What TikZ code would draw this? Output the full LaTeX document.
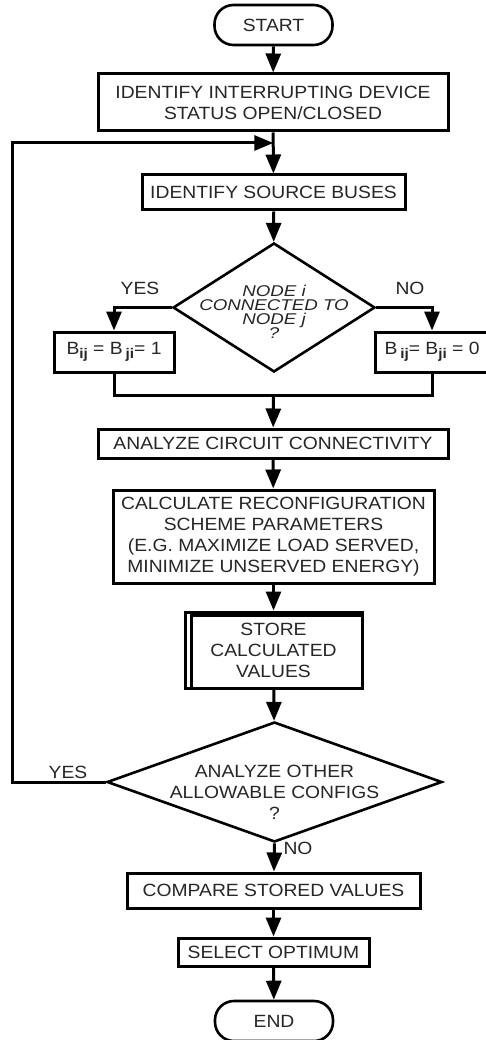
\documentclass[tikz,border=0pt]{standalone}
\usepackage{fontspec}
\setmainfont{Liberation Sans}[FakeStretch=1.09]
\newfontfamily\dianodefont{Liberation Sans}[FakeStretch=1.2]
\usetikzlibrary{arrows.meta,shapes.geometric}
\newcommand\bsub[1]{\raisebox{-0.45ex}{\fontsize{14}{14}\selectfont\bfseries #1}}
\tikzset{
  every node/.style={font=\fontsize{17.7}{21}\selectfont, text=black!85},
  proc/.style={draw=black, line width=3pt, rectangle, inner sep=0pt, align=center},
  term/.style={draw=black, line width=2.6pt, rectangle, rounded corners=19pt, inner sep=0pt,
               minimum width=118pt, minimum height=40pt},
  decide/.style={draw=black, line width=2.6pt, diamond, inner sep=0pt},
  arr/.style={line width=3pt, -{Triangle[length=19pt,width=15pt]}},
  link/.style={line width=3pt},
  lbl/.style={inner sep=0pt}
}
\begin{document}
\begin{tikzpicture}[x=1pt,y=-1pt]
  \useasboundingbox (0,0) rectangle (486,1040);
  \fill[white] (0,0) rectangle (486,1040);

  % terminals and process boxes, top to bottom
  \node[term] (start) at (273.5,25) {START};
  \node[proc, minimum width=350pt, minimum height=57pt] (status) at (273,102.5)
    {IDENTIFY INTERRUPTING DEVICE\\STATUS OPEN/CLOSED};
  \coordinate (join) at (273.3,143);
  \node[proc, minimum width=263pt, minimum height=35pt] (source) at (273.5,192.5)
    {IDENTIFY SOURCE BUSES};

  % connectivity test
  \node[decide, minimum width=202pt, minimum height=129pt] (conn) at (274,307.5) {};
  \node[lbl, align=center, font=\dianodefont\itshape\fontsize{15.6}{14.2}\selectfont]
    (conntext) at ([yshift=-4.5pt]conn.center) {NODE \textit{i}\\CONNECTED TO\\NODE \textit{j}\\?};
  \node[proc, minimum width=120pt, minimum height=40pt] (bone) at (114,352)
    {B\bsub{ij} = B\,\bsub{ji}= 1};
  \node[proc, minimum width=114pt, minimum height=40pt] (bzero) at (432,352)
    {B\,\bsub{ij}= B\bsub{ji} = 0};
  \coordinate (merge) at (273.5,395);

  \node[proc, minimum width=350pt, minimum height=29pt] (circuit) at (273,443.5)
    {ANALYZE CIRCUIT CONNECTIVITY};
  \node[proc, minimum width=321pt, minimum height=93pt] (calc) at (273.5,536.5)
    {CALCULATE RECONFIGURATION\\SCHEME PARAMETERS\\(E.G. MAXIMIZE LOAD SERVED,\\MINIMIZE UNSERVED ENERGY)};
  \node[proc, minimum width=177pt, minimum height=76pt] (store) at (273.5,650)
    {STORE\\CALCULATED\\VALUES};
  % inner edge of the stored-data box
  \draw[line width=2.4pt] ([xshift=8pt]store.south west) -- ([xshift=8pt,yshift=-5pt]store.north west)
    -- ([yshift=-5pt]store.north east);

  % loop test
  \node[decide, minimum width=335pt, minimum height=120pt] (other) at (274.5,782) {};
  \node[lbl, align=center] (othertext) at ([yshift=-10pt]other.center)
    {ANALYZE OTHER\\ALLOWABLE CONFIGS\\?};
  \coordinate (loopx) at (12,782);

  \node[proc, minimum width=293pt, minimum height=35pt] (compare) at (273.5,890.5)
    {COMPARE STORED VALUES};
  \node[proc, minimum width=191pt, minimum height=28pt] (select) at (273.5,952)
    {SELECT OPTIMUM};
  \node[term] (finish) at (274,1021) {END};

  % connectors
  \draw[arr] (start) -- (status);
  \draw[arr] (status) -- (source);
  \draw[arr] (source) -- (conn);
  \draw[arr] (conn.west) -| (bone.north);
  \draw[arr] (conn.east) -| (bzero.north);
  \draw[link] (bone.south) |- (merge) -| (bzero.south);
  \draw[arr] (merge) -- (circuit);
  \draw[arr] (circuit) -- (calc);
  \draw[arr] (calc) -- (store);
  \draw[arr] (store) -- (other);
  \draw[arr] (other.west) -- (loopx) |- (join);
  \draw[arr] (other.south) -- (compare);
  \draw[arr] (compare) -- (select);
  \draw[arr] (select) -- (finish);

  % branch labels
  \node[lbl] (yesone) at (140,288) {YES};
  \node[lbl] (noone) at (410,288) {NO};
  \node[lbl] (yestwo) at (68,772) {YES};
  \node[lbl] (notwo) at (298,848) {NO};
\end{tikzpicture}
\end{document}
